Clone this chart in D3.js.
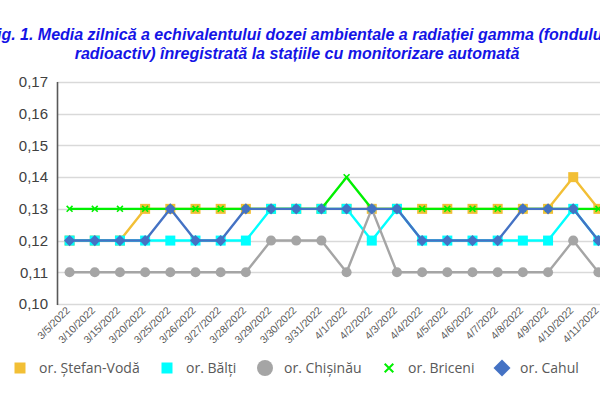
<!DOCTYPE html>
<html>
<head>
<meta charset="utf-8">
<script src="https://cdn.jsdelivr.net/npm/d3@7"></script>
<style>
    body { margin: 0; background: #ffffff; overflow: hidden; }
    svg { display: block; }
</style>
</head>
<body>
<div id="chart"></div>
<script>
// chart data
// chart data

var categories = ["3/5/2022", "3/10/2022", "3/15/2022", "3/20/2022", "3/25/2022", "3/26/2022",
    "3/27/2022", "3/28/2022", "3/29/2022", "3/30/2022", "3/31/2022", "4/1/2022", "4/2/2022",
    "4/3/2022", "4/4/2022", "4/5/2022", "4/6/2022", "4/7/2022", "4/8/2022", "4/9/2022",
    "4/10/2022", "4/11/2022"];

var stefanVoda = [0.12, 0.12, 0.12, 0.13, 0.13, 0.13, 0.13, 0.13, 0.13, 0.13, 0.13,
    0.13, 0.13, 0.13, 0.13, 0.13, 0.13, 0.13, 0.13, 0.13, 0.14, 0.13];
var balti = [0.12, 0.12, 0.12, 0.12, 0.12, 0.12, 0.12, 0.12, 0.13, 0.13, 0.13,
    0.13, 0.12, 0.13, 0.12, 0.12, 0.12, 0.12, 0.12, 0.12, 0.13, 0.12];
var chisinau = [0.11, 0.11, 0.11, 0.11, 0.11, 0.11, 0.11, 0.11, 0.12, 0.12, 0.12,
    0.11, 0.13, 0.11, 0.11, 0.11, 0.11, 0.11, 0.11, 0.11, 0.12, 0.11];
var briceni = [0.13, 0.13, 0.13, 0.13, 0.13, 0.13, 0.13, 0.13, 0.13, 0.13, 0.13,
    0.14, 0.13, 0.13, 0.13, 0.13, 0.13, 0.13, 0.13, 0.13, 0.13, 0.13];
var cahul = [0.12, 0.12, 0.12, 0.12, 0.13, 0.12, 0.12, 0.13, 0.13, 0.13, 0.13,
    0.13, 0.13, 0.13, 0.12, 0.12, 0.12, 0.12, 0.13, 0.13, 0.13, 0.12];

var yTicks = [0.10, 0.11, 0.12, 0.13, 0.14, 0.15, 0.16, 0.17];

var titleLines = [
    "Fig. 1. Media zilnică a echivalentului dozei ambientale a radiației gamma (fondului",
    "radioactiv) înregistrată la stațiile cu monitorizare automată"
];

var series = [
    {name: "or. Ștefan-Vodă", values: stefanVoda, color: "#F2BF35", marker: "square"},
    {name: "or. Bălți", values: balti, color: "#00FFFF", marker: "square"},
    {name: "or. Chișinău", values: chisinau, color: "#A5A5A5", marker: "circle"},
    {name: "or. Briceni", values: briceni, color: "#00F000", marker: "x"},
    {name: "or. Cahul", values: cahul, color: "#4472C4", marker: "diamond"}
];

var width = 600,
    height = 398,
    plotLeft = 57,
    plotRight = 611,
    plotTop = 82,
    plotBottom = 304;

// marker path for a series
// marker path for a series

function markerPath(type, big)
{
    if (type == "square") return d3.symbol(d3.symbolSquare, big ? 121 : 100)();
    if (type == "circle") return d3.symbol(d3.symbolCircle, big ? 201 : 80)();
    if (type == "x") return d3.symbol(d3.symbolX, big ? 50 : 24)();
    if (type == "diamond") return d3.symbol(d3.symbolSquare, big ? 144 : 62)();
    return "";
}

var svg = d3.select("#chart").append("svg")
    .attr("width", width)
    .attr("height", height);

// title
// title

svg.append("g").selectAll("text")
    .data(titleLines)
    .enter().append("text")
    .attr("x", 297)
    .attr("y", function(d, i) { return 40 + i * 18.5; })
    .attr("text-anchor", "middle")
    .style("font-family", "'Liberation Sans', Arial, sans-serif")
    .style("font-size", "16px")
    .style("font-weight", "bold")
    .style("font-style", "italic")
    .style("fill", "#1414E6")
    .text(function(d) { return d; });

// scales
// scales

var x = d3.scalePoint()
    .domain(categories)
    .range([plotLeft, plotRight])
    .padding(0.5);

var y = d3.scaleLinear()
    .domain([0.10, 0.17])
    .range([plotBottom, plotTop]);

// grid lines
// grid lines

svg.append("g").selectAll("line")
    .data(yTicks)
    .enter().append("line")
    .attr("x1", plotLeft)
    .attr("x2", plotRight)
    .attr("y1", function(d) { return Math.round(y(d)) + 0.5; })
    .attr("y2", function(d) { return Math.round(y(d)) + 0.5; })
    .style("stroke", "#D9D9D9")
    .style("stroke-width", 1.3);

// y axis
// y axis

var yAxis = svg.append("g")
    .attr("transform", "translate(" + plotLeft + ",0)")
    .call(d3.axisLeft(y).tickValues(yTicks).tickSize(0).tickPadding(9)
        .tickFormat(function(d) { return d3.format(".2f")(d).replace(".", ","); }));

yAxis.select(".domain")
    .attr("d", "M0.5," + plotTop + "V" + (plotBottom + 1))
    .style("stroke", "#595959")
    .style("stroke-width", 1.6);

yAxis.selectAll("text")
    .style("font-family", "'Liberation Sans', Arial, sans-serif")
    .style("font-size", "15px")
    .style("fill", "#404040");

// x axis labels
// x axis labels

svg.append("g").selectAll("text")
    .data(categories)
    .enter().append("text")
    .attr("transform", function(d) { return "translate(" + (x(d) + 1) + "," + 311 + ") rotate(-45)"; })
    .attr("text-anchor", "end")
    .style("font-family", "'Liberation Sans', Arial, sans-serif")
    .style("font-size", "10.5px")
    .style("fill", "#595959")
    .text(function(d) { return d; });

// lines and markers
// lines and markers

var line = d3.line()
    .x(function(d, i) { return x(categories[i]); })
    .y(function(d) { return y(d); });

series.forEach(function(s)
{
    var g = svg.append("g");

    g.append("path")
        .datum(s.values)
        .attr("d", line)
        .style("fill", "none")
        .style("stroke", s.color)
        .style("stroke-width", 2.4)
        .style("stroke-linejoin", "round");

    g.selectAll(".marker")
        .data(s.values)
        .enter().append("path")
        .attr("class", "marker")
        .attr("transform", function(d, i) {
            return "translate(" + x(categories[i]) + "," + y(d) + ")" + (s.marker == "diamond" ? " rotate(45)" : "");
        })
        .attr("d", markerPath(s.marker, false))
        .style("fill", s.marker == "x" ? "none" : s.color)
        .style("stroke", s.marker == "x" ? s.color : "none")
        .style("stroke-width", 1.6);
});

// legend
// legend

var legendX = [20, 167, 265, 389, 502];

var legend = svg.append("g").selectAll("g")
    .data(series)
    .enter().append("g")
    .attr("transform", function(d, i) { return "translate(" + legendX[i] + ",368)"; });

legend.append("path")
    .attr("transform", function(d) { return d.marker == "diamond" ? "rotate(45)" : null; })
    .attr("d", function(d) { return markerPath(d.marker, true); })
    .style("fill", function(d) { return d.marker == "x" ? "none" : d.color; })
    .style("stroke", function(d) { return d.marker == "x" ? d.color : "none"; })
    .style("stroke-width", 2);

legend.append("text")
    .attr("x", function(d) { return d.marker == "circle" ? 19 : (d.marker == "diamond" ? 18 : 19); })
    .attr("y", 5)
    .style("font-family", "'Open Sans', sans-serif")
    .style("font-size", "14px")
    .style("fill", "#595959")
    .text(function(d) { return d.name; });
</script>
</body>
</html>
